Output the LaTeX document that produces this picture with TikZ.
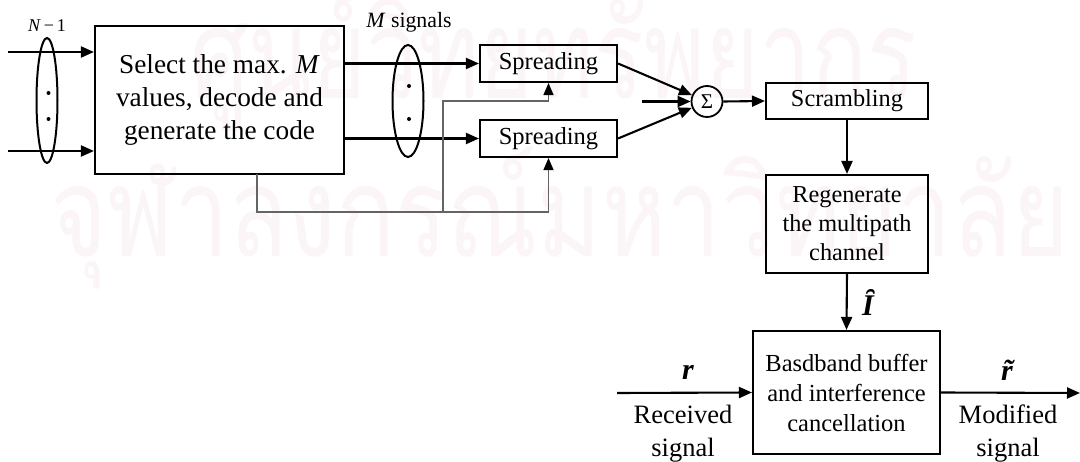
\documentclass[tikz,border=0pt]{standalone}
\usepackage{fontspec}
\setmainfont{Liberation Serif}
\newfontfamily\thaifont[Script=Thai]{Loma}
\usetikzlibrary{arrows.meta,shapes.geometric}
\definecolor{wmpink}{RGB}{251,245,248}
\definecolor{fbgray}{RGB}{100,100,100}
\tikzset{
  box/.style={draw, line width=2.1pt, inner sep=0pt, align=center},
  arr/.style={line width=2.1pt, -{Triangle[length=13pt,width=11pt]}},
  fbline/.style={draw=fbgray, line width=1.3pt},
  fbarr/.style={fbline, -{Triangle[length=12pt,width=10pt,color=black]}},
  grp/.style={draw, ellipse, line width=2pt, inner sep=0pt},
  dotn/.style={circle, fill, inner sep=0pt, minimum size=4pt},
  wm/.style={text=wmpink, anchor=base west, inner sep=0pt, font=\thaifont\fontsize{125}{125}\selectfont},
  lbl/.style={inner sep=0pt, align=center}
}
\begin{document}
\begin{tikzpicture}[x=1pt,y=-1pt]
\useasboundingbox (0,0) rectangle (1080,462);
% watermark
\node[wm] (wmtop) at (190,99) {\scalebox{0.74}[1]{ศูนย์วิทยทรัพยากร}};
\node[wm] (wmbot) at (50,257) {\scalebox{0.78}[1]{จุฬาลงกรณ์มหาวิทยาลัย}};

% main block
\node[box, minimum width=249pt, minimum height=148pt, font=\fontsize{27.3}{33}\selectfont] (main) at (219.5,100)
  {Select the max. \textit{M}\\values, decode and\\generate the code};
\coordinate (in1) at (8,52);
\coordinate (in2) at (8,151);
\draw[arr] (in1) -- (main.west |- in1);
\draw[arr] (in2) -- (main.west |- in2);
\node[grp, minimum width=21pt, minimum height=125pt] (e1) at (47,100.5) {};
\node[dotn] (e1d1) at (48.5,93) {};
\node[dotn] (e1d2) at (48.5,119) {};
\node[lbl, font=\fontsize{18}{18}\selectfont] (nlab) at (47,26) {\textit{N}\,−\,1};

% spreading
\node[box, minimum width=137pt, minimum height=37pt, font=\fontsize{24.5}{29}\selectfont] (sp1) at (548.5,63.5) {Spreading};
\node[box, minimum width=137pt, minimum height=37pt, font=\fontsize{24.5}{29}\selectfont] (sp2) at (548.5,138.5) {Spreading};
\draw[arr] (main.east |- sp1) -- (sp1.west);
\draw[arr] (main.east |- sp2) -- (sp2.west);
\node[grp, minimum width=31pt, minimum height=112pt] (e2) at (408,101) {};
\node[dotn] (e2d1) at (409,86) {};
\node[dotn] (e2d2) at (409,119) {};
\node[lbl, font=\fontsize{21.8}{22}\selectfont] (mlab) at (409,22) {\textit{M} signals};

% feedback
\coordinate (fb0) at (257,174);
\coordinate (fbY) at (0,212);
\coordinate (br) at (443,212);
\coordinate (brtop) at (443,101);
\draw[fbarr] (fb0) |- (fbY -| sp2.south) -- (sp2.south);
\draw[fbarr] (br) -- (brtop) -| (sp1.south);

% sum
\node[draw, circle, line width=1.8pt, minimum size=31pt, inner sep=0pt, font=\fontsize{21}{21}\selectfont] (sig) at (707,101.5) {Σ};
\coordinate (sigin) at (642,101.5);
\draw[arr] (sp1.east) -- (sig);
\draw[arr] (sp2.east) -- (sig);
\draw[arr] (sigin) -- (sig.west);

% scrambling / regenerate
\node[box, minimum width=162pt, minimum height=36pt, font=\fontsize{24.3}{29}\selectfont] (scr) at (847,101) {Scrambling};
\node[box, minimum width=162pt, minimum height=98pt, font=\fontsize{24.3}{29}\selectfont] (reg) at (847,224) {Regenerate\\the multipath\\channel};
\draw[arr] (sig.east) -- (scr.west);
\draw[arr] (scr.south) -- (reg.north);

% buffer
\node[box, minimum width=187pt, minimum height=123pt, font=\fontsize{24.5}{30}\selectfont] (buf) at (846.5,392.5) {Basdband buffer\\and interference\\cancellation};
\draw[arr] (reg.south) -- (buf.north);
\node[lbl, font=\fontsize{30}{30}\selectfont\bfseries\itshape] (ihat) at (868,302) {Ȋ};

\coordinate (rin) at (617,393);
\coordinate (rout) at (1080,393);
\draw[arr] (rin) -- (buf.west);
\draw[arr] (buf.east) -- (rout);
\node[lbl, font=\fontsize{30}{30}\selectfont\bfseries\itshape] (rlab) at (688,372) {r};
\node[lbl, font=\fontsize{30}{30}\selectfont\bfseries\itshape] (rtlab) at (1007,370) {\~{r}};
\node[lbl, font=\fontsize{26.5}{33}\selectfont] (rxlab) at (683,434) {Received\\signal};
\node[lbl, font=\fontsize{26.5}{33}\selectfont] (modlab) at (1008,434) {Modified\\signal};
\end{tikzpicture}
\end{document}
